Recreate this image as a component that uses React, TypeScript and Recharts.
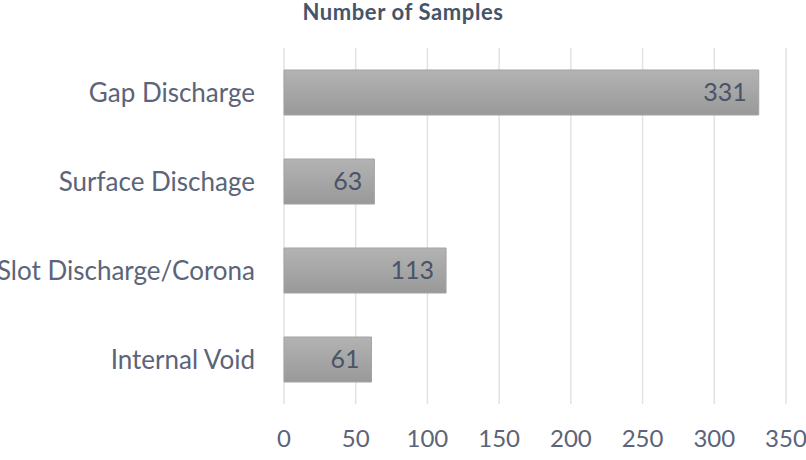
import React from "react";
import { BarChart, Bar, XAxis, YAxis, CartesianGrid, LabelList } from "recharts";

const categories = ["Gap Discharge", "Surface Dischage", "Slot Discharge/Corona", "Internal Void"];
const samples = [331, 63, 113, 61];
const xTicks = [0, 50, 100, 150, 200, 250, 300, 350];

const data = categories.map((name, i) => ({ name, value: samples[i] }));

const FONT = "Lato, 'Open Sans', sans-serif";

export default function App() {
  return (
    <div style={{ position: "absolute", left: 0, top: 0, width: 806, height: 460, background: "#fff", overflow: "hidden" }}>
      <div
        style={{
          position: "absolute",
          left: 0,
          top: 0,
          width: 806,
          textAlign: "center",
          fontFamily: FONT,
          fontWeight: 700,
          fontSize: 22,
          letterSpacing: 0.6,
          color: "#44546a",
          lineHeight: "23px",
          zIndex: 1,
        }}
      >
        Number of Samples
      </div>
      <BarChart
        width={806}
        height={460}
        data={data}
        layout="vertical"
        margin={{ top: 48, right: 20, bottom: 0, left: 0 }}
      >
        <defs>
          <linearGradient id="barGrad" x1="0" y1="0" x2="0" y2="1">
            <stop offset="0%" stopColor="#b3b3b3" />
            <stop offset="100%" stopColor="#999999" />
          </linearGradient>
        </defs>
        <CartesianGrid horizontal={false} stroke="#e2e2e2" strokeWidth={1.5} />
        <XAxis
          type="number"
          domain={[0, 350]}
          ticks={xTicks}
          axisLine={false}
          tickLine={false}
          height={56}
          tickMargin={20}
          tick={{ fill: "#5b6478", fontSize: 24, fontFamily: FONT }}
        />
        <YAxis
          type="category"
          dataKey="name"
          width={284}
          axisLine={false}
          tickLine={false}
          tickMargin={23}
          tick={{ fill: "#5b6478", fontSize: 26, fontFamily: FONT }}
        />
        <Bar dataKey="value" barSize={45} fill="url(#barGrad)" stroke="#a3a3a3" isAnimationActive={false}>
          <LabelList
            dataKey="value"
            position="insideRight"
            offset={12}
            fill="#4a5468"
            fontSize={25}
            fontFamily={FONT}
          />
        </Bar>
      </BarChart>
    </div>
  );
}
